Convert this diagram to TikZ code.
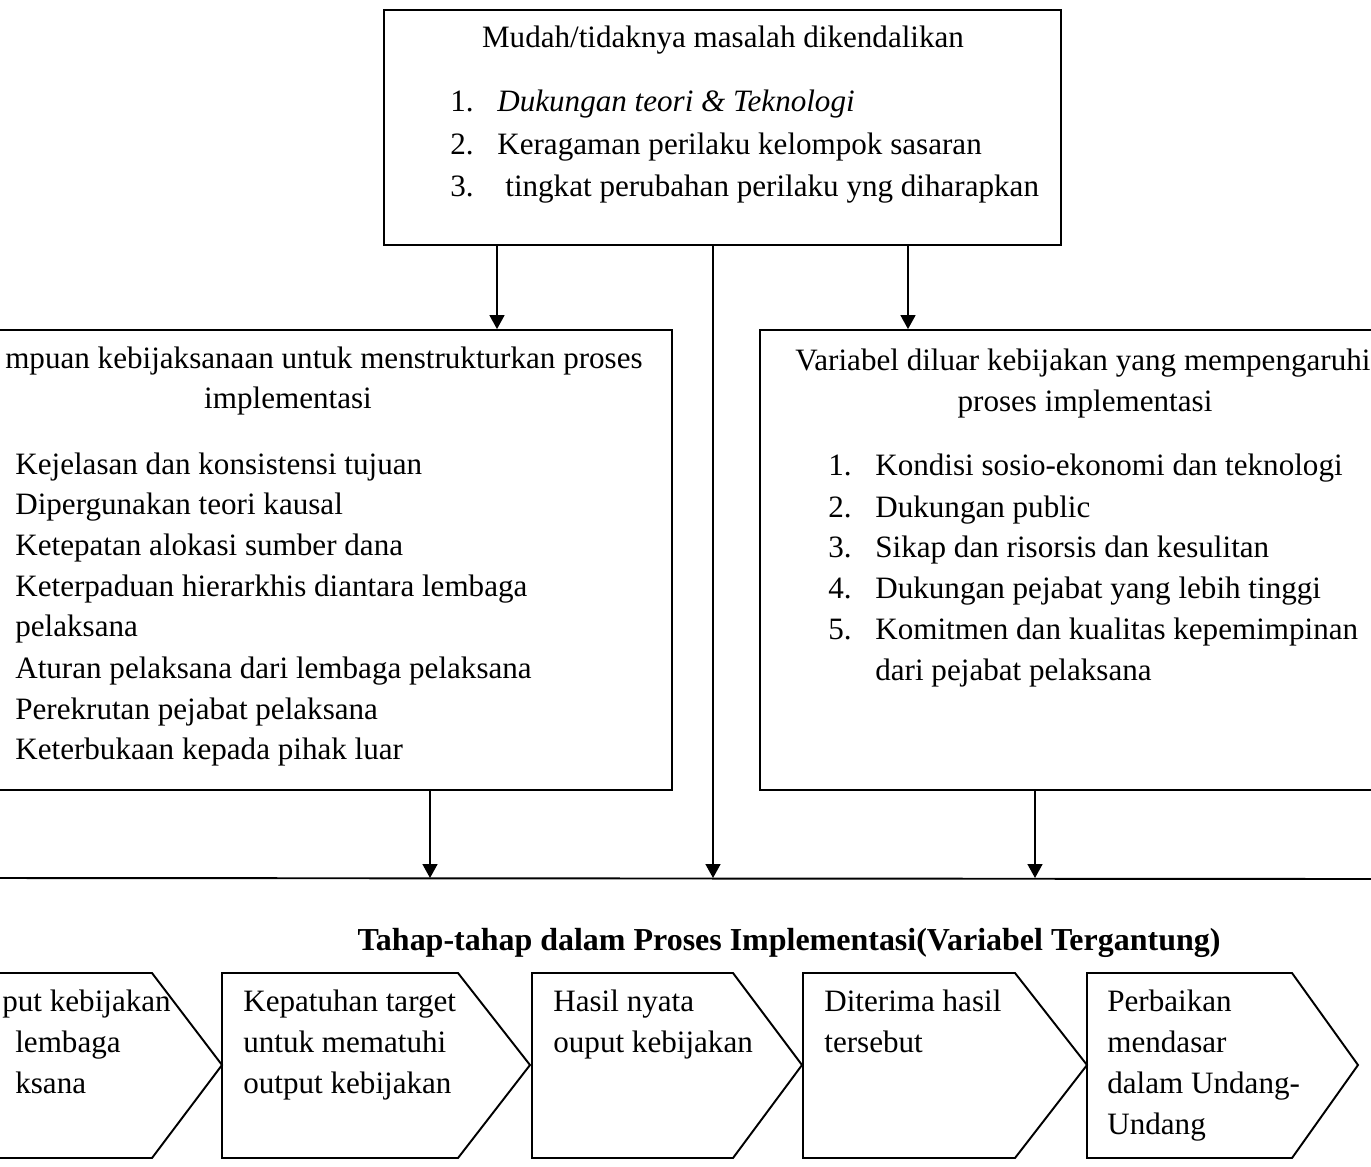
\documentclass[tikz,border=0pt]{standalone}
\usepackage{fontspec}
\setmainfont{Liberation Serif}
\usetikzlibrary{arrows.meta}
\tikzset{
    kotak/.style={draw, line width=1.1pt, inner sep=0pt},
    teks/.style={anchor=base west, inner sep=0pt, font=\fontsize{17.7}{20}\selectfont},
    judul/.style={anchor=base, inner sep=0pt, font=\fontsize{17.7}{20}\selectfont},
    panah/.style={-{Triangle[length=2.8mm,width=3mm]}, line width=0.9pt},
}
\begin{document}
\begin{tikzpicture}[x=0.02cm, y=-0.02cm]
    \useasboundingbox (0,0) rectangle (1371,1166);
    \clip (0,0) rectangle (1371,1166);

    % Kotak atas
    \node[kotak, minimum width=13.54cm, minimum height=4.7cm] (masalah) at (722.5,127.5) {};
    \node[judul] (masalahJ) at (723,48) {Mudah/tidaknya masalah dikendalikan};
    \node[teks] (m1) at (450,112) {1.};
    \node[teks] (m1t) at (497,112) {\itshape Dukungan teori \& Teknologi};
    \node[teks] (m2) at (450,154) {2.};
    \node[teks] (m2t) at (497,154) {Keragaman perilaku kelompok sasaran};
    \node[teks] (m3) at (450,196) {3.};
    \node[teks] (m3t) at (505,196) {tingkat perubahan perilaku yng diharapkan};

    % Kotak kiri
    \node[kotak, minimum width=14.64cm, minimum height=9.2cm] (kiri) at (306,560) {};
    \node[teks, anchor=base east] (kiriJ1) at (643,368) {mpuan kebijaksanaan untuk menstrukturkan proses};
    \node[judul] (kiriJ2) at (288,408) {implementasi};
    \foreach \yy/\isi [count=\i] in {
        474/Kejelasan dan konsistensi tujuan,
        514/Dipergunakan teori kausal,
        555/Ketepatan alokasi sumber dana,
        596/Keterpaduan hierarkhis diantara lembaga,
        636/pelaksana,
        678/Aturan pelaksana dari lembaga pelaksana,
        719/Perekrutan pejabat pelaksana,
        759/Keterbukaan kepada pihak luar}
        \node[teks] (k\i) at (15,\yy) {\isi};

    % Kotak kanan
    \node[kotak, minimum width=13.4cm, minimum height=9.2cm] (kanan) at (1095,560) {};
    \node[teks] (kananJ1) at (795,370) {Variabel diluar kebijakan yang mempengaruhi};
    \node[judul] (kananJ2) at (1085,411) {proses implementasi};
    \foreach \yy/\no/\isi [count=\i] in {
        475/1./Kondisi sosio-ekonomi dan teknologi,
        517/2./Dukungan public,
        557/3./Sikap dan risorsis dan kesulitan,
        598/4./Dukungan pejabat yang lebih tinggi,
        639/5./Komitmen dan kualitas kepemimpinan}
    {
        \node[teks] (n\i) at (828,\yy) {\no};
        \node[teks] (v\i) at (875,\yy) {\isi};
    }
    \node[teks] (v6) at (875,680) {dari pejabat pelaksana};

    % Garis pertemuan
    \coordinate (garisA) at (0,878);
    \coordinate (garisB) at (1371,879);
    \draw[line width=1.1pt] (garisA) -- (garisB);

    % Panah
    \draw[panah] (masalah.south -| 497,0) -- (kiri.north -| 497,0);
    \draw[panah] (masalah.south -| 908,0) -- (kanan.north -| 908,0);
    \draw[panah] (masalah.south -| 713,0) -- (garisA -| 713,0);
    \draw[panah] (kiri.south -| 430,0) -- (garisA -| 430,0);
    \draw[panah] (kanan.south -| 1035,0) -- (garisA -| 1035,0);

    % Tahap-tahap
    \node[judul, font=\fontsize{18.2}{20}\selectfont\bfseries] (tahapJ) at (789,950)
        {Tahap-tahap dalam Proses Implementasi(Variabel Tergantung)};
    \foreach \ki/\ka/\uj [count=\i] in {-60/152/222, 222/458/530, 532/733/802, 803/1015/1087, 1087/1292/1358}
        \draw[line width=1.1pt] (\ki,973) -- (\ka,973) -- (\uj,1065) -- (\ka,1158) -- (\ki,1158) -- cycle;
    \foreach \xx/\yy/\isi [count=\i] in {
        2/1011/put kebijakan, 15/1052/lembaga, 15/1093/ksana,
        243/1011/Kepatuhan target, 243/1052/untuk mematuhi, 243/1093/output kebijakan,
        553/1011/Hasil nyata, 553/1052/ouput kebijakan,
        824/1011/Diterima hasil, 824/1052/tersebut,
        1107/1011/Perbaikan, 1107/1052/mendasar, 1107/1093/dalam Undang-, 1107/1134/Undang}
        \node[teks] (s\i) at (\xx,\yy) {\isi};
\end{tikzpicture}
\end{document}
